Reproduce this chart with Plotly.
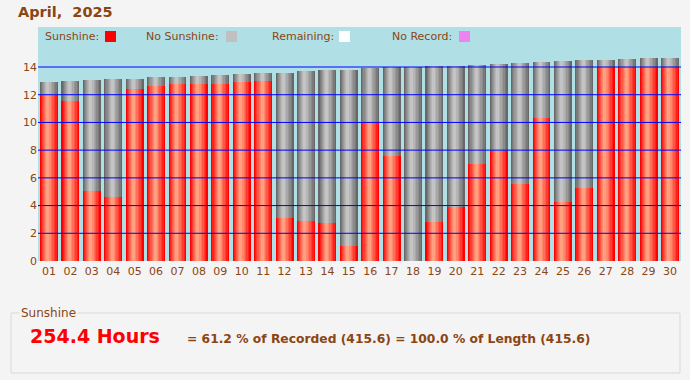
import plotly.graph_objects as go

# ---------------- data ----------------
days = list(range(1, 31))
day_labels = ["01", "02", "03", "04", "05", "06", "07", "08", "09", "10",
              "11", "12", "13", "14", "15", "16", "17", "18", "19", "20",
              "21", "22", "23", "24", "25", "26", "27", "28", "29", "30"]
day_length = [12.93, 13.00, 13.06, 13.12, 13.15, 13.27, 13.28, 13.35, 13.42, 13.49,
              13.55, 13.58, 13.70, 13.77, 13.80, 13.92, 13.98, 14.02, 14.06, 14.09,
              14.14, 14.21, 14.28, 14.35, 14.42, 14.49, 14.52, 14.58, 14.64, 14.66]
sunshine = [12.00, 11.55, 5.05, 4.60, 12.40, 12.65, 12.80, 12.80, 12.80, 12.90,
            13.00, 3.10, 2.90, 2.75, 1.10, 10.05, 7.60, 0.00, 2.85, 3.90,
            7.00, 7.95, 5.55, 10.35, 4.25, 5.30, 14.00, 14.00, 14.00, 14.00]
y_ticks = [0, 2, 4, 6, 8, 10, 12, 14]
grid_values = [2, 4, 6, 8, 10, 12, 14]
legend_items = ["Sunshine:", "No Sunshine:", "Remaining:", "No Record:"]
title_text = "April,&nbsp; 2025"
total_text = "254.4 Hours"
summary_text = "= 61.2 % of Recorded (415.6) = 100.0 % of Length (415.6)"

# ---------------- styling helpers ----------------
W, H = 690, 380
PL, PR, PT, PB = 38, 681, 27, 261   # plot area in pixels
BROWN = "#8B4513"


def px(x):
    return (x - PL) / (PR - PL)


def py(y):
    return (PB - y) / (PB - PT)


def lerp(c1, c2, t):
    return "rgb(%d,%d,%d)" % tuple(round(a + (b - a) * t) for a, b in zip(c1, c2))


widths = [0.84, 0.72, 0.60, 0.48, 0.36, 0.25, 0.14]
n = len(widths)

fig = go.Figure()


def add_cylinder(values, edge, hi):
    for k, w in enumerate(widths):
        t = k / (n - 1)
        shift = -0.05 * t
        fig.add_trace(go.Bar(
            x=days, y=values, width=w, offset=-w / 2 + shift,
            marker=dict(color=lerp(edge, hi, t ** 0.9), line=dict(width=0)),
            hoverinfo="skip", showlegend=False,
        ))


add_cylinder(day_length, (104, 104, 104), (196, 196, 196))
add_cylinder(sunshine, (255, 0, 0), (255, 160, 128))

shapes = []
# grid lines above the bars
for g in grid_values:
    shapes.append(dict(type="line", xref="paper", yref="y", x0=0, x1=1, y0=g, y1=g,
                       line=dict(color="#0000FF", width=1), layer="above"))

# legend squares
sq_colors = ["#FF0000", "#C0C0C0", "#FFFFFF", "#EE82EE"]
sq_x = [105, 226, 339, 459]
for c, x0 in zip(sq_colors, sq_x):
    shapes.append(dict(type="rect", xref="paper", yref="paper",
                       x0=px(x0), x1=px(x0 + 11), y0=py(31), y1=py(42),
                       fillcolor=c, line=dict(width=0), layer="above"))

# fieldset box
shapes.append(dict(type="rect", xref="paper", yref="paper",
                   x0=px(11), x1=px(680), y0=py(313), y1=py(373),
                   line=dict(color="#D8D8D8", width=1), fillcolor="rgba(0,0,0,0)"))

annotations = []
annotations.append(dict(text="<b>" + title_text + "</b>", xref="paper", yref="paper",
                        x=px(16), y=py(12), xanchor="left", yanchor="middle",
                        showarrow=False,
                        font=dict(family="DejaVu Sans", size=14.5, color=BROWN)))
leg_x = [43, 144, 270, 390]
for t, x0 in zip(legend_items, leg_x):
    annotations.append(dict(text=t, xref="paper", yref="paper", x=px(x0), y=py(37),
                            xanchor="left", yanchor="middle", showarrow=False,
                            font=dict(family="DejaVu Sans", size=11, color=BROWN)))
annotations.append(dict(text="Sunshine", xref="paper", yref="paper", x=px(19), y=py(313),
                        xanchor="left", yanchor="middle", showarrow=False,
                        bgcolor="#F4F4F4", borderpad=1,
                        font=dict(family="DejaVu Sans", size=12, color=BROWN)))
annotations.append(dict(text="<b>" + total_text + "</b>", xref="paper", yref="paper",
                        x=px(28), y=py(336), xanchor="left", yanchor="middle",
                        showarrow=False,
                        font=dict(family="DejaVu Sans", size=19, color="#FF0000")))
annotations.append(dict(text="<b>" + summary_text + "</b>", xref="paper", yref="paper",
                        x=px(185), y=py(339), xanchor="left", yanchor="middle",
                        showarrow=False,
                        font=dict(family="DejaVu Sans", size=12.3, color=BROWN)))

fig.update_layout(
    width=W, height=H,
    margin=dict(l=PL, r=W - PR, t=PT, b=H - PB, pad=0),
    paper_bgcolor="#F4F4F4", plot_bgcolor="#B0E0E6",
    barmode="overlay", bargap=0,
    shapes=shapes, annotations=annotations,
    xaxis=dict(range=[0.485, 30.515], tickmode="array", tickvals=days, ticktext=day_labels,
               showgrid=False, zeroline=False, showline=False, ticks="",
               ticklabelstandoff=2,
               tickfont=dict(family="DejaVu Sans", size=11, color=BROWN), fixedrange=True),
    yaxis=dict(range=[0, (PB - PT) / ((PB - 67) / 14)], tickmode="array", tickvals=y_ticks,
               showgrid=False, zeroline=False, showline=False, ticks="",
               tickfont=dict(family="DejaVu Sans", size=11, color=BROWN), fixedrange=True),
    showlegend=False,
)

fig.write_html(
    "out.html",
    config={"displayModeBar": False},
    post_script="document.body.style.margin='0';document.body.style.background='#F4F4F4';",
)
